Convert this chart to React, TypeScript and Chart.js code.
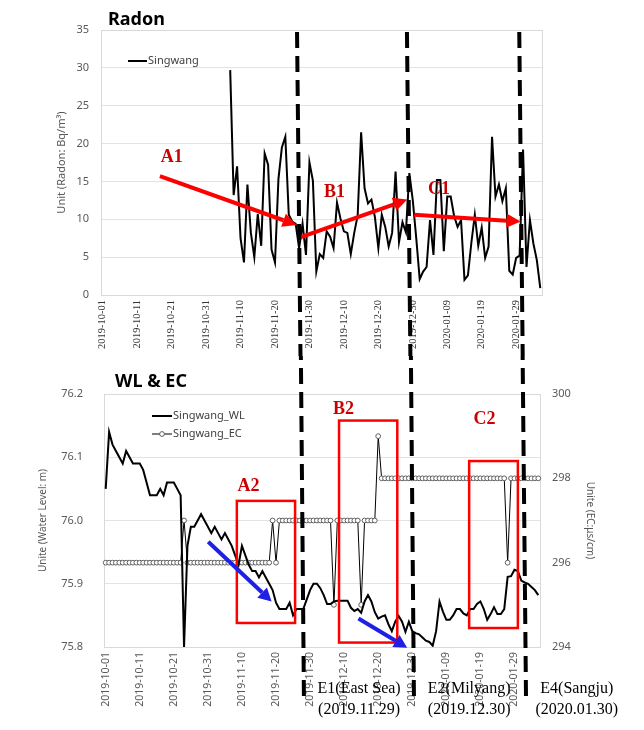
import React, { useEffect, useRef } from 'react';
import { Chart, registerables } from 'chart.js';

Chart.register(...registerables);

const SANS = '"Noto Sans", "DejaVu Sans", sans-serif';
const SERIF = '"Liberation Serif", "DejaVu Serif", serif';

// ---------- categories (daily) ----------
const DAY_COUNT = 128; // 2019-10-01 .. 2020-02-05
function buildDates(): string[] {
  const out: string[] = [];
  const t0 = Date.UTC(2019, 9, 1);
  for (let i = 0; i < DAY_COUNT; i++) out.push(new Date(t0 + i * 86400000).toISOString().slice(0, 10));
  return out;
}
const dates = buildDates();

const tickLabels = [
  '2019-10-01', '2019-10-11', '2019-10-21', '2019-10-31', '2019-11-10', '2019-11-20', '2019-11-30',
  '2019-12-10', '2019-12-20', '2019-12-30', '2020-01-09', '2020-01-19', '2020-01-29',
];
const tickSet = new Set(tickLabels);

// ---------- Radon (Bq/m3), starts 2019-11-07 ----------
const radonStart = '2019-11-07';
const radonValues = [
  29.7, 13.2, 17.0, 7.5, 4.3, 14.6, 8.2, 5.0, 10.7, 6.5,
  18.7, 17.2, 6.0, 4.3, 15.3, 19.5, 20.9, 10.6, 9.7, 9.4,
  6.2, 9.4, 5.3, 17.5, 15.1, 3.1, 5.4, 4.9, 8.4, 7.7,
  6.2, 12.2, 10.1, 8.4, 8.2, 5.4, 8.2, 10.5, 21.5, 14.1,
  12.1, 12.6, 10.3, 6.2, 10.6, 9.0, 6.4, 8.2, 16.3, 7.0,
  9.6, 8.3, 16.1, 12.5, 7.5, 2.1, 3.1, 3.7, 9.9, 5.3,
  15.2, 15.2, 5.8, 13.0, 13.0, 10.4, 9.0, 9.9, 2.0, 2.6,
  6.9, 10.6, 6.5, 8.9, 4.9, 6.4, 20.9, 13.0, 14.6, 12.4,
  14.1, 3.2, 2.7, 4.9, 5.2, 19.2, 3.7, 9.9, 6.8, 4.6,
  0.9,
];

// ---------- Water level (m) ----------
const wlValues = [
  76.05, 76.14, 76.12, 76.11, 76.10, 76.09, 76.11, 76.10, 76.09, 76.09,
  76.09, 76.08, 76.06, 76.04, 76.04, 76.04, 76.05, 76.04, 76.06, 76.06,
  76.06, 76.05, 76.04, 75.80, 75.96, 75.99, 75.99, 76.00, 76.01, 76.00,
  75.99, 75.98, 75.99, 75.98, 75.97, 75.98, 75.97, 75.96, 75.945, 75.93,
  75.96, 75.945, 75.93, 75.92, 75.92, 75.91, 75.92, 75.91, 75.90, 75.89,
  75.87, 75.86, 75.86, 75.86, 75.87, 75.85, 75.86, 75.86, 75.86, 75.875,
  75.89, 75.90, 75.90, 75.893, 75.882, 75.868, 75.868, 75.872, 75.873, 75.873,
  75.873, 75.873, 75.862, 75.857, 75.86, 75.854, 75.872, 75.882, 75.872, 75.855,
  75.845, 75.848, 75.85, 75.836, 75.825, 75.84, 75.849, 75.84, 75.824, 75.84,
  75.825, 75.822, 75.82, 75.815, 75.81, 75.808, 75.802, 75.825, 75.872, 75.856,
  75.843, 75.843, 75.85, 75.86, 75.86, 75.853, 75.85, 75.86, 75.86, 75.868,
  75.872, 75.86, 75.843, 75.852, 75.863, 75.852, 75.852, 75.86, 75.911, 75.912,
  75.922, 75.92, 75.905, 75.902, 75.90, 75.895, 75.89, 75.882,
];

// ---------- EC (us/cm) ----------
const ecValues = [
  296, 296, 296, 296, 296, 296, 296, 296, 296, 296,
  296, 296, 296, 296, 296, 296, 296, 296, 296, 296,
  296, 296, 296, 297, 296, 296, 296, 296, 296, 296,
  296, 296, 296, 296, 296, 296, 296, 296, 296, 296,
  296, 296, 296, 296, 296, 296, 296, 296, 296, 297,
  296, 297, 297, 297, 297, 297, 297, 297, 297, 297,
  297, 297, 297, 297, 297, 297, 297, 295, 297, 297,
  297, 297, 297, 297, 297, 295, 297, 297, 297, 297,
  299, 298, 298, 298, 298, 298, 298, 298, 298, 298,
  298, 298, 298, 298, 298, 298, 298, 298, 298, 298,
  298, 298, 298, 298, 298, 298, 298, 298, 298, 298,
  298, 298, 298, 298, 298, 298, 298, 298, 296, 298,
  298, 298, 298, 298, 298, 298, 298, 298,
];

// ---------- annotations (category index / axis value) ----------
const dashTop = [[56.4, 57.4], [88.3, 89.3], [120.9, 121.9]];
const dashBottom = [[57.3, 58.2], [89.6, 90.5], [122.4, 123.4]];
const redArrowsTop = [
  { x0: 16.6, y0: 15.7, x1: 56.3, y1: 9.25 },
  { x0: 57.3, y0: 7.6, x1: 88.4, y1: 12.6 },
  { x0: 90.4, y0: 10.6, x1: 121.3, y1: 9.7 },
];
const topMarks = [
  { t: 'A1', x: 20.0, y: 18.2 },
  { t: 'B1', x: 67.3, y: 13.5 },
  { t: 'C1', x: 97.6, y: 13.9 },
];
const blueArrows = [
  { x0: 30.1, y0: 75.9665, x1: 48.7, y1: 75.872 },
  { x0: 74.2, y0: 75.845, x1: 88.5, y1: 75.799 },
];
const redBoxes = [
  { x0: 38.5, x1: 55.6, y0: 76.031, y1: 75.838 },
  { x0: 68.5, x1: 85.6, y0: 76.158, y1: 75.807 },
  { x0: 106.7, x1: 121.0, y0: 76.094, y1: 75.83 },
];
const bottomMarks = [
  { t: 'A2', x: 41.9, y: 76.0545 },
  { t: 'B2', x: 69.8, y: 76.175 },
  { t: 'C2', x: 111.2, y: 76.16 },
];
const eventNames = ['E1(East Sea)', 'E2(Milyang)', 'E4(Sangju)'];
const eventDates = ['(2019.11.29)', '(2019.12.30)', '(2020.01.30)'];
const eventTextIdx = [74.4, 106.7, 138.3];

// ---------- helpers ----------
function drawArrow(ctx: CanvasRenderingContext2D, x0: number, y0: number, x1: number, y1: number, color: string, width: number, headLen: number, headW: number) {
  const ang = Math.atan2(y1 - y0, x1 - x0);
  const bx = x1 - headLen * Math.cos(ang);
  const by = y1 - headLen * Math.sin(ang);
  ctx.strokeStyle = color;
  ctx.lineWidth = width;
  ctx.lineCap = 'butt';
  ctx.setLineDash([]);
  ctx.beginPath();
  ctx.moveTo(x0, y0);
  ctx.lineTo(bx, by);
  ctx.stroke();
  ctx.fillStyle = color;
  ctx.beginPath();
  ctx.moveTo(x1, y1);
  ctx.lineTo(bx + headW * Math.sin(ang), by - headW * Math.cos(ang));
  ctx.lineTo(bx - headW * Math.sin(ang), by + headW * Math.cos(ang));
  ctx.closePath();
  ctx.fill();
}

function drawDash(ctx: CanvasRenderingContext2D, xa: number, ya: number, xb: number, yb: number, offset: number) {
  ctx.save();
  ctx.strokeStyle = '#000';
  ctx.lineWidth = 4;
  ctx.setLineDash([16, 8]);
  ctx.lineDashOffset = offset;
  ctx.beginPath();
  ctx.moveTo(xa, ya);
  ctx.lineTo(xb, yb);
  ctx.stroke();
  ctx.restore();
}

function drawBorder(chart: any) {
  const { ctx, chartArea: a } = chart;
  ctx.save();
  ctx.strokeStyle = '#d9d9d9';
  ctx.lineWidth = 1;
  ctx.strokeRect(Math.round(a.left) + 0.5, Math.round(a.top) + 0.5, Math.round(a.right - a.left), Math.round(a.bottom - a.top));
  ctx.restore();
}

const topPlugin = {
  id: 'topDecor',
  beforeDatasetsDraw(chart: any) {
    drawBorder(chart);
  },
  afterDraw(chart: any) {
    const { ctx, scales } = chart;
    const x = scales.x;
    const y = scales.y;
    ctx.save();
    ctx.font = `bold 18px ${SANS}`;
    ctx.fillStyle = '#000';
    ctx.textAlign = 'left';
    ctx.textBaseline = 'middle';
    ctx.fillText('Radon', 108, 20);
    const ds = chart.data.datasets[0];
    ctx.strokeStyle = '#000';
    ctx.lineWidth = 2;
    ctx.beginPath();
    ctx.moveTo(128, 61);
    ctx.lineTo(147, 61);
    ctx.stroke();
    ctx.font = `11px ${SANS}`;
    ctx.fillStyle = '#404040';
    ctx.fillText(ds.label, 148, 61);
    redArrowsTop.forEach((r) => {
      drawArrow(ctx, x.getPixelForValue(r.x0), y.getPixelForValue(r.y0), x.getPixelForValue(r.x1), y.getPixelForValue(r.y1), '#ff0000', 4, 14, 7);
    });
    ctx.font = `bold 18px ${SERIF}`;
    ctx.fillStyle = '#cc0000';
    ctx.textAlign = 'center';
    topMarks.forEach((m) => ctx.fillText(m.t, x.getPixelForValue(m.x), y.getPixelForValue(m.y)));
    dashTop.forEach(([a, b]) => drawDash(ctx, x.getPixelForValue(a), 32, x.getPixelForValue(b), chart.height, 0));
    ctx.restore();
  },
};

const bottomPlugin = {
  id: 'bottomDecor',
  beforeDatasetsDraw(chart: any) {
    drawBorder(chart);
  },
  afterDraw(chart: any) {
    const { ctx, scales, chartArea } = chart;
    const x = scales.x;
    const y = scales.y;
    ctx.save();
    ctx.font = `bold 18px ${SANS}`;
    ctx.fillStyle = '#000';
    ctx.textAlign = 'left';
    ctx.textBaseline = 'middle';
    ctx.fillText('WL & EC', 115, 26);
    const [wl, ec] = chart.data.datasets;
    ctx.strokeStyle = '#000';
    ctx.lineWidth = 2;
    ctx.beginPath();
    ctx.moveTo(152, 60);
    ctx.lineTo(172, 60);
    ctx.stroke();
    ctx.lineWidth = 1;
    ctx.beginPath();
    ctx.moveTo(152, 78);
    ctx.lineTo(172, 78);
    ctx.stroke();
    ctx.fillStyle = '#fff';
    ctx.strokeStyle = '#606060';
    ctx.beginPath();
    ctx.arc(162, 78, 2.4, 0, Math.PI * 2);
    ctx.fill();
    ctx.stroke();
    ctx.font = `11px ${SANS}`;
    ctx.fillStyle = '#404040';
    ctx.fillText(wl.label, 173, 60);
    ctx.fillText(ec.label, 173, 78);
    ctx.strokeStyle = '#ff0000';
    ctx.lineWidth = 2.5;
    redBoxes.forEach((b) => {
      const xa = x.getPixelForValue(b.x0);
      const xb = x.getPixelForValue(b.x1);
      const ya = y.getPixelForValue(b.y0);
      const yb = y.getPixelForValue(b.y1);
      ctx.strokeRect(xa, ya, xb - xa, yb - ya);
    });
    blueArrows.forEach((r) => {
      drawArrow(ctx, x.getPixelForValue(r.x0), y.getPixelForValue(r.y0), x.getPixelForValue(r.x1), y.getPixelForValue(r.y1), '#1f1fe6', 4, 13, 7);
    });
    ctx.font = `bold 18px ${SERIF}`;
    ctx.fillStyle = '#cc0000';
    ctx.textAlign = 'center';
    bottomMarks.forEach((m) => ctx.fillText(m.t, x.getPixelForValue(m.x), y.getPixelForValue(m.y)));
    dashBottom.forEach(([a, b]) => drawDash(ctx, x.getPixelForValue(a), 0, x.getPixelForValue(b), 344, 12));
    ctx.font = `16px ${SERIF}`;
    ctx.fillStyle = '#000';
    eventTextIdx.forEach((idx, i) => {
      const px = x.getPixelForValue(idx);
      ctx.fillText(eventNames[i], px, chartArea.bottom + 42);
      ctx.fillText(eventDates[i], px, chartArea.bottom + 63);
    });
    ctx.restore();
  },
};

function xAxis(height: number, fontFamily: string, color: string) {
  return {
    type: 'category',
    offset: true,
    grid: { display: false, drawTicks: false },
    border: { color: '#bfbfbf' },
    ticks: {
      autoSkip: false,
      minRotation: 90,
      maxRotation: 90,
      padding: 5,
      color,
      font: { family: fontFamily, size: 10.5 },
      callback: (_v: any, i: number) => (tickSet.has(dates[i]) ? dates[i] : null),
    },
    afterFit: (s: any) => {
      s.height = height;
    },
  };
}

export default function App() {
  const topRef = useRef<HTMLCanvasElement>(null);
  const botRef = useRef<HTMLCanvasElement>(null);

  useEffect(() => {
    const startIdx = dates.indexOf(radonStart);
    const radonData = dates.map((_, i) => (i >= startIdx && i - startIdx < radonValues.length ? radonValues[i - startIdx] : null));

    const top = new Chart(topRef.current as HTMLCanvasElement, {
      type: 'line',
      data: {
        labels: dates,
        datasets: [
          { label: 'Singwang', data: radonData, borderColor: '#000', borderWidth: 2, pointRadius: 0, tension: 0 },
        ],
      },
      options: {
        responsive: false,
        animation: false,
        layout: { padding: { left: 0, top: 30, right: 102, bottom: 0 } },
        plugins: { legend: { display: false }, title: { display: false }, tooltip: { enabled: false } },
        scales: {
          x: xAxis(61, SERIF, '#333333') as any,
          y: {
            min: 0,
            max: 35,
            ticks: { stepSize: 5, padding: 12, color: '#595959', font: { family: SANS, size: 11 } },
            grid: { color: '#e3e3e3', drawTicks: false },
            border: { color: '#bfbfbf' },
            title: { display: true, text: 'Unit (Radon: Bq/m³)', color: '#595959', font: { family: SANS, size: 11 }, padding: { top: 55, bottom: 0 } },
            afterFit: (s: any) => {
              s.width = 101;
            },
          } as any,
        },
      },
      plugins: [topPlugin],
    });

    const bottom = new Chart(botRef.current as HTMLCanvasElement, {
      type: 'line',
      data: {
        labels: dates,
        datasets: [
          { label: 'Singwang_WL', data: wlValues, yAxisID: 'y', borderColor: '#000', borderWidth: 2, pointRadius: 0, tension: 0 },
          {
            label: 'Singwang_EC',
            data: ecValues,
            yAxisID: 'y2',
            borderColor: '#000',
            borderWidth: 1,
            pointRadius: 2.4,
            pointBorderWidth: 1,
            pointBorderColor: '#606060',
            pointBackgroundColor: '#ffffff',
            tension: 0,
          },
        ],
      },
      options: {
        responsive: false,
        animation: false,
        layout: { padding: { left: 0, top: 38, right: 0, bottom: 0 } },
        plugins: { legend: { display: false }, title: { display: false }, tooltip: { enabled: false } },
        scales: {
          x: xAxis(83, SANS, '#595959') as any,
          y: {
            position: 'left',
            min: 75.8,
            max: 76.2,
            ticks: { stepSize: 0.1, padding: 21, color: '#595959', font: { family: SANS, size: 11 }, callback: (v: any) => Number(v).toFixed(1) },
            grid: { color: '#e3e3e3', drawTicks: false },
            border: { color: '#bfbfbf' },
            title: { display: true, text: 'Unite (Water Level: m)', color: '#595959', font: { family: SANS, size: 10 }, padding: { top: 37, bottom: 0 } },
            afterFit: (s: any) => {
              s.width = 104;
            },
          } as any,
          y2: {
            position: 'right',
            min: 294,
            max: 300,
            ticks: { stepSize: 2, padding: 12, color: '#595959', font: { family: SANS, size: 11 } },
            grid: { display: false, drawTicks: false },
            border: { color: '#d9d9d9' },
            title: { display: true, text: 'Unite (EC:μs/cm)', color: '#595959', font: { family: SANS, size: 10 }, padding: { top: 48, bottom: 0 } },
            afterFit: (s: any) => {
              s.width = 104;
            },
          } as any,
        },
      },
      plugins: [bottomPlugin],
    });

    return () => {
      top.destroy();
      bottom.destroy();
    };
  }, []);

  return (
    <div style={{ position: 'absolute', left: 0, top: 0, width: 644, height: 730, background: '#fff' }}>
      <canvas ref={topRef} width={644} height={356} style={{ position: 'absolute', left: 0, top: 0, width: 644, height: 356 }} />
      <canvas ref={botRef} width={644} height={374} style={{ position: 'absolute', left: 0, top: 356, width: 644, height: 374 }} />
    </div>
  );
}
